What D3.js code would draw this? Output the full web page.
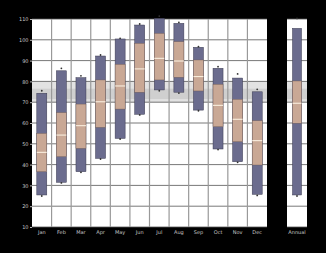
<!DOCTYPE html>
<html><head><meta charset="utf-8">
<script src="https://cdn.jsdelivr.net/npm/d3@7"></script>
<style>html,body{margin:0;padding:0;background:#000;}svg{display:block;}</style>
</head><body>
<svg id="c" width="326" height="253"></svg>
<script>
const months = ["Jan","Feb","Mar","Apr","May","Jun","Jul","Aug","Sep","Oct","Nov","Dec"];
const overallLabel = ["Annual"];
const recordHigh = [75.5, 86.3, 82.7, 92.7, 100.7, 107.6, 111.4, 108.4, 96.7, 87.1, 83.6, 76.2];
const p90 = [74.3, 85.1, 81.8, 92.2, 100.4, 107.1, 110.3, 107.9, 96.4, 86.3, 81.6, 75.0];
const p75 = [55.0, 65.0, 69.1, 80.7, 88.2, 98.3, 103.1, 99.1, 90.3, 78.6, 71.4, 61.1];
const median = [45.9, 54.2, 58.7, 70.2, 77.8, 86.0, 91.1, 89.8, 82.3, 68.5, 61.8, 51.5];
const p25 = [36.6, 43.8, 47.8, 57.9, 66.7, 74.8, 80.7, 82.0, 75.4, 58.2, 51.0, 39.8];
const p10 = [25.4, 31.5, 36.6, 43.0, 52.6, 64.2, 75.9, 74.8, 66.2, 47.5, 41.4, 25.7];
const recordLow = [24.9, 31.2, 36.3, 42.7, 52.3, 63.9, 75.5, 74.4, 65.9, 47.2, 41.1, 25.2];
const overall = {hi:110.3, p90:105.5, p75:80.2, med:69.5, p25:59.9, p10:25.4, lo:24.9};
const yTicks = [110, 100, 90, 80, 70, 60, 50, 40, 30, 20, 10];
const bandOuter = [70, 80];
const bandInner = [71.5, 76.5];

(function () {
const svg = d3.select("#c");
const pTop = 19, pBottom = 227;
const y = d3.scaleLinear().domain([10, 110]).range([pBottom, pTop]);
const x = d3.scaleBand().domain(months).range([32, 267]).padding(0);
const xo = d3.scaleBand().domain(overallLabel).range([287, 307]).padding(0);

const cDark = "#6b6c8e", cTan = "#c9a895", cMed = "#fff6e6";

function panel(scale, domain) {
  const [x0, x1] = scale.range();
  const g = svg.append("g");
  g.append("rect").attr("x", x0).attr("y", pTop).attr("width", x1 - x0).attr("height", pBottom - pTop).attr("fill", "#fff");
  g.append("rect").attr("x", x0).attr("width", x1 - x0)
    .attr("y", y(bandOuter[1])).attr("height", y(bandOuter[0]) - y(bandOuter[1])).attr("fill", "#e2e2e2");
  g.append("rect").attr("x", x0).attr("width", x1 - x0)
    .attr("y", y(bandInner[1])).attr("height", y(bandInner[0]) - y(bandInner[1])).attr("fill", "#cfcfcf");
  g.selectAll(".hg").data(yTicks).join("line")
    .attr("x1", x0).attr("x2", x1).attr("y1", d => y(d)).attr("y2", d => y(d))
    .attr("stroke", "#555").attr("stroke-width", 0.8);
  const bounds = domain.map(d => scale(d)).slice(1);
  g.selectAll(".vg").data(bounds).join("line")
    .attr("x1", d => d).attr("x2", d => d).attr("y1", pTop).attr("y2", pBottom)
    .attr("stroke", "#999").attr("stroke-width", 1.2);
  return g;
}

panel(x, months);
panel(xo, overallLabel);

function box(g, cx, bw, d) {
  const bx = cx - bw / 2;
  g.append("rect").attr("x", bx).attr("width", bw).attr("y", y(d.p90)).attr("height", y(d.p10) - y(d.p90))
    .attr("fill", cDark).attr("stroke", "#3a3a50").attr("stroke-width", 0.5);
  g.append("rect").attr("x", bx).attr("width", bw).attr("y", y(d.p75)).attr("height", y(d.p25) - y(d.p75))
    .attr("fill", cTan).attr("stroke", "#6d5a55").attr("stroke-width", 0.4);
  g.append("line").attr("x1", bx).attr("x2", bx + bw).attr("y1", y(d.med)).attr("y2", y(d.med))
    .attr("stroke", cMed).attr("stroke-width", 1);
  g.append("circle").attr("cx", cx).attr("cy", y(d.hi)).attr("r", 0.9).attr("fill", "#333");
  g.append("circle").attr("cx", cx).attr("cy", y(d.lo)).attr("r", 0.9).attr("fill", "#333");
}

const gb = svg.append("g");
months.forEach((m, i) => {
  box(gb, x(m) + x.bandwidth() / 2, 10,
    {hi: recordHigh[i], p90: p90[i], p75: p75[i], med: median[i], p25: p25[i], p10: p10[i], lo: recordLow[i]});
});
box(gb, xo(overallLabel[0]) + xo.bandwidth() / 2, 9, overall);

function styleText(sel) {
  sel.selectAll("text").style("fill", "#c8c8c8").style("font-size", "5px").style("font-family", "DejaVu Sans");
}
const yAxis = d3.axisLeft(y).tickValues(yTicks).tickSize(2).tickPadding(1.5);
const ya = svg.append("g").attr("transform", "translate(32,0)").call(yAxis);
ya.select(".domain").remove();
ya.selectAll("line").style("stroke", "#bbb");
styleText(ya);

const xa = svg.append("g").attr("transform", `translate(0,${pBottom})`).call(d3.axisBottom(x).tickSize(0).tickPadding(3));
xa.select(".domain").remove();
styleText(xa);
const xb = svg.append("g").attr("transform", `translate(0,${pBottom})`).call(d3.axisBottom(xo).tickSize(0).tickPadding(3));
xb.select(".domain").remove();
styleText(xb);
})();
</script>
</body></html>
